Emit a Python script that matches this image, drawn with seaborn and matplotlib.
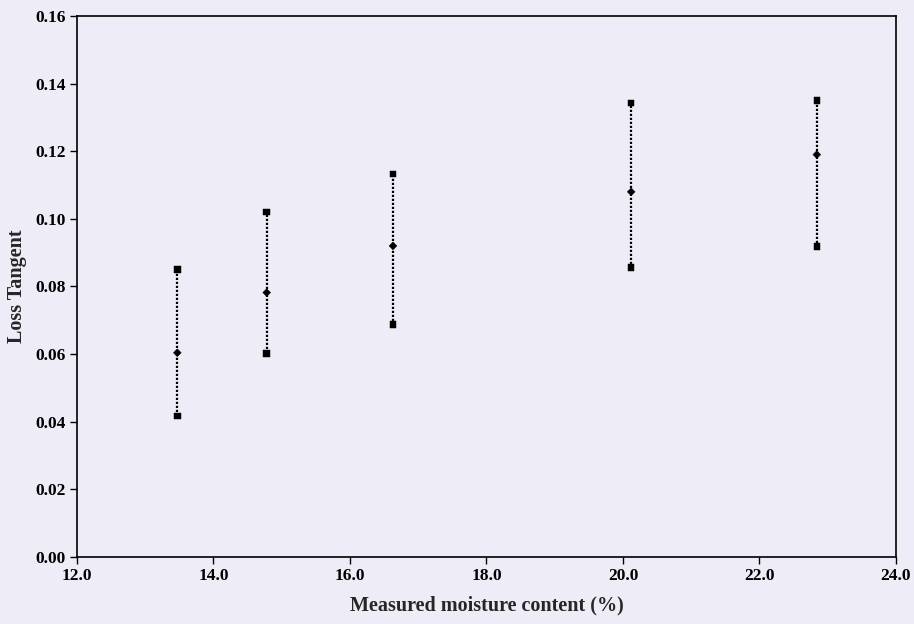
import pandas as pd
import matplotlib.pyplot as plt
import seaborn as sns

# measured moisture content (%) and loss tangent range per sample
moisture = [13.47, 14.78, 16.63, 20.12, 22.84]
loss_min = [0.0417, 0.0602, 0.0687, 0.0856, 0.0918]
loss_mid = [0.0604, 0.0782, 0.0920, 0.1080, 0.1190]
loss_max = [0.0850, 0.1020, 0.1133, 0.1342, 0.1350]

rows = []
for i, m in enumerate(moisture):
    rows.append({'moisture': m, 'loss': loss_min[i], 'kind': 'min', 'grp': i})
    rows.append({'moisture': m, 'loss': loss_mid[i], 'kind': 'mid', 'grp': i})
    rows.append({'moisture': m, 'loss': loss_max[i], 'kind': 'max', 'grp': i})
df = pd.DataFrame(rows)

sns.set_style('ticks')
plt.rcParams['font.family'] = ['Liberation Serif', 'DejaVu Serif']
plt.rcParams['font.weight'] = 'bold'

bg = '#eeecf6'
fig = plt.figure(figsize=(9.14, 6.24), dpi=100, facecolor=bg)
ax = fig.add_axes([0.0842, 0.1074, 0.8961, 0.8670])
ax.set_facecolor(bg)

# dotted range lines
sns.lineplot(data=df, x='moisture', y='loss', units='grp', estimator=None,
             color='black', linestyle=(0, (1, 0.8)), linewidth=1.6, sort=False, ax=ax, legend=False)
# end points (squares) and mid points (diamonds)
sns.scatterplot(data=df, x='moisture', y='loss', style='kind',
                markers={'min': 's', 'max': 's', 'mid': 'D'},
                size='kind', sizes={'min': 22, 'max': 22, 'mid': 16},
                color='black', edgecolor='black', ax=ax, legend=False, zorder=3)

ax.set_xlim(12, 24)
ax.set_ylim(0, 0.16)
ax.set_xticks([12, 14, 16, 18, 20, 22, 24])
ax.set_xticklabels(['12.0', '14.0', '16.0', '18.0', '20.0', '22.0', '24.0'])
ax.set_yticks([0.00, 0.02, 0.04, 0.06, 0.08, 0.10, 0.12, 0.14, 0.16])
ax.set_yticklabels(['0.00', '0.02', '0.04', '0.06', '0.08', '0.10', '0.12', '0.14', '0.16'])
ax.tick_params(direction='out', length=5, width=1, labelsize=12.5, colors='black', pad=3)
for lab in ax.get_xticklabels() + ax.get_yticklabels():
    lab.set_fontweight('bold')
for sp in ax.spines.values():
    sp.set_linewidth(1.2)
    sp.set_color('black')

ax.set_xlabel('Measured moisture content (%)', fontsize=14.5, fontweight='bold', labelpad=8)
ax.set_ylabel('Loss Tangent', fontsize=14.5, fontweight='bold', labelpad=6)

plt.savefig('out.png', dpi=100, facecolor=bg)
